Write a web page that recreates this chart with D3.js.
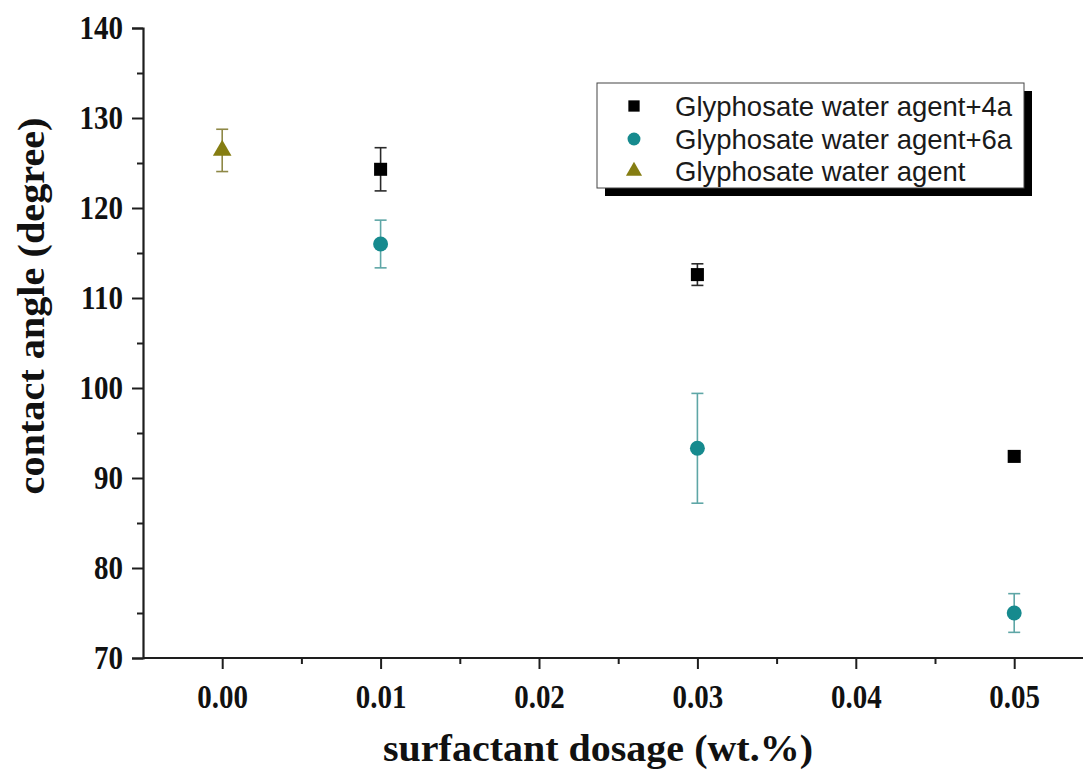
<!DOCTYPE html>
<html>
<head>
<meta charset="utf-8">
<script src="https://cdn.jsdelivr.net/npm/d3@7"></script>
<style>
  html, body { margin: 0; padding: 0; background: #fff; }
  svg { display: block; }
</style>
</head>
<body>
<svg id="chart" width="1083" height="771"></svg>
<script>
// Contact angle vs. surfactant dosage
const dosage4a = [0.01, 0.03, 0.05];
const angle4a  = [124.3, 112.6, 92.4];
const err4a    = [2.4, 1.2, 0.4];

const dosage6a = [0.01, 0.03, 0.05];
const angle6a  = [116.0, 93.3, 75.0];
const err6a    = [2.65, 6.1, 2.15];

const dosageBase = [0.00];
const angleBase  = [126.4];
const errBase    = [2.35];

const xMajorTicks = [0.00, 0.01, 0.02, 0.03, 0.04, 0.05];
const xMinorTicks = [0.005, 0.015, 0.025, 0.035, 0.045, 0.055];
const yMajorTicks = [70, 80, 90, 100, 110, 120, 130, 140];
const yMinorTicks = [75, 85, 95, 105, 115, 125, 135];

const legendLabels = ["Glyphosate water agent+4a", "Glyphosate water agent+6a", "Glyphosate water agent"];

const svg = d3.select("#chart");

const x = d3.scaleLinear().domain([-0.005, 0.055]).range([143, 1093.4]);
const y = d3.scaleLinear().domain([70, 140]).range([658, 28]);

const serif = "'Liberation Serif', 'Times New Roman', serif";
const sans = "'Liberation Sans', Arial, sans-serif";
const axisColor = "#1e1e1e";

// axes
const xAxis = svg.append("g").attr("transform", `translate(0,${y(70)})`)
  .call(d3.axisBottom(x).tickValues(xMajorTicks).tickSize(11).tickPadding(15)
        .tickFormat(d3.format(".2f")));
const xMinor = svg.append("g").attr("transform", `translate(0,${y(70)})`)
  .call(d3.axisBottom(x).tickValues(xMinorTicks).tickSize(6).tickFormat(""));
const yAxis = svg.append("g").attr("transform", `translate(${x(-0.005)},0)`)
  .call(d3.axisLeft(y).tickValues(yMajorTicks).tickSize(11).tickPadding(9));
const yMinor = svg.append("g").attr("transform", `translate(${x(-0.005)},0)`)
  .call(d3.axisLeft(y).tickValues(yMinorTicks).tickSize(6).tickFormat(""));

[xAxis, xMinor, yAxis, yMinor].forEach(g => {
  g.select(".domain").attr("stroke", axisColor).attr("stroke-width", 2.2);
  g.selectAll(".tick line").attr("stroke", axisColor).attr("stroke-width", 2);
  g.selectAll(".tick text").attr("fill", "#111")
    .style("font-family", serif).style("font-weight", "bold").style("font-size", "29px");
});
// tall, narrow tick numerals
xAxis.selectAll(".tick text").attr("transform", "translate(0,24) scale(1,1.15) translate(0,-24)");
yAxis.selectAll(".tick text").attr("transform", "scale(1,1.15)").attr("y", 0).attr("dy", "0.3em");
xMinor.select(".domain").remove();
yMinor.select(".domain").remove();
xAxis.select(".domain").attr("d", `M${x(-0.005)},0H1083`);

// axis titles
svg.append("text")
  .attr("x", 598).attr("y", 761)
  .attr("text-anchor", "middle")
  .attr("textLength", 430).attr("lengthAdjust", "spacingAndGlyphs")
  .style("font-family", serif).style("font-weight", "bold").style("font-size", "38px")
  .attr("fill", "#111")
  .text("surfactant dosage (wt.%)");

svg.append("text")
  .attr("transform", "translate(44,306) rotate(-90)")
  .attr("text-anchor", "middle")
  .attr("textLength", 377).attr("lengthAdjust", "spacingAndGlyphs")
  .style("font-family", serif).style("font-weight", "bold").style("font-size", "38px")
  .attr("fill", "#111")
  .text("contact angle (degree)");

// series
const series = [
  { xs: dosage4a, ys: angle4a, es: err4a, color: "#000000", bar: "#2a2a2a", shape: d3.symbolSquare, size: 170 },
  { xs: dosage6a, ys: angle6a, es: err6a, color: "#168a8e", bar: "#5ea6a6", shape: d3.symbolCircle, size: 175 },
  { xs: dosageBase, ys: angleBase, es: errBase, color: "#857d12", bar: "#8e8846", shape: d3.symbolTriangle, size: 150 }
];

const plot = svg.append("g");
series.forEach(s => {
  const pts = s.xs.map((d, i) => ({ x: d, y: s.ys[i], e: s.es[i] }));
  const g = plot.append("g");
  const eb = g.selectAll("g.err").data(pts).join("g").attr("class", "err")
    .attr("stroke", s.bar).attr("stroke-width", 1.6).attr("fill", "none");
  eb.append("line")
    .attr("x1", d => x(d.x)).attr("x2", d => x(d.x))
    .attr("y1", d => y(d.y + d.e)).attr("y2", d => y(d.y - d.e));
  eb.append("line")
    .attr("x1", d => x(d.x) - 6).attr("x2", d => x(d.x) + 6)
    .attr("y1", d => y(d.y + d.e)).attr("y2", d => y(d.y + d.e));
  eb.append("line")
    .attr("x1", d => x(d.x) - 6).attr("x2", d => x(d.x) + 6)
    .attr("y1", d => y(d.y - d.e)).attr("y2", d => y(d.y - d.e));
  g.selectAll("path.mark").data(pts).join("path").attr("class", "mark")
    .attr("d", d3.symbol().type(s.shape).size(s.size))
    .attr("transform", d => `translate(${x(d.x)},${y(d.y)})`)
    .attr("fill", s.color);
});

// legend with drop shadow
const lg = svg.append("g");
lg.append("rect").attr("x", 605).attr("y", 91).attr("width", 427).attr("height", 105).attr("fill", "#000");
lg.append("rect").attr("x", 597).attr("y", 83).attr("width", 427).attr("height", 105)
  .attr("fill", "#fff").attr("stroke", "#444").attr("stroke-width", 1);
const rowY = [106, 139, 171];
series.forEach((s, i) => {
  lg.append("path")
    .attr("d", d3.symbol().type(s.shape).size(s.size * 0.75))
    .attr("transform", `translate(634,${rowY[i]})`)
    .attr("fill", s.color);
  lg.append("text")
    .attr("x", 675).attr("y", rowY[i]).attr("dy", "0.36em")
    .style("font-family", sans).style("font-size", "27.5px").attr("fill", "#1a1a1a")
    .text(legendLabels[i]);
});
</script>
</body>
</html>
